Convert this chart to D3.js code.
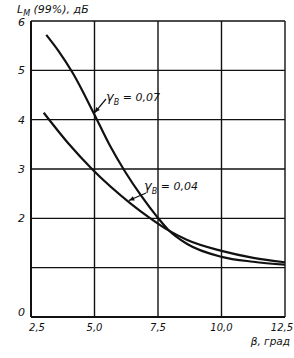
<!DOCTYPE html>
<html><head><meta charset="utf-8">
<script src="https://cdn.jsdelivr.net/npm/d3@7"></script>
<style>
html,body{margin:0;padding:0;background:#fff;}
svg{display:block;}
text{font-family:"DejaVu Sans",sans-serif;font-style:italic;fill:#111;}
</style></head>
<body>
<script>
// Data
const xTicks = [2.5, 5.0, 7.5, 10.0, 12.5];
const xTickLabels = ["2,5", "5,0", "7,5", "10,0", "12,5"];
const yTicks = [0, 1, 2, 3, 4, 5, 6];
const yTickLabels = ["0", "", "2", "3", "4", "5", "6"];

const betaA = [3.1, 3.6, 4.15, 5.0, 5.6, 6.2, 6.85, 7.45, 7.9, 8.65, 10.0, 11.25, 12.5];
const lmA   = [5.72, 5.38, 4.94, 4.1, 3.48, 2.95, 2.45, 2.04, 1.77, 1.48, 1.22, 1.12, 1.06]; // gamma_B = 0,07

const betaB = [3.0, 4.0, 4.9, 6.4, 7.2, 7.9, 8.65, 10.0, 11.25, 12.5];
const lmB   = [4.14, 3.5, 3.0, 2.31, 2.0, 1.76, 1.56, 1.34, 1.2, 1.11];    // gamma_B = 0,04

const W = 294, H = 358;
const svg = d3.select("body").append("svg").attr("width", W).attr("height", H);

const x = d3.scaleLinear().domain([2.5, 12.5]).range([31, 285]);
const y = d3.scaleLinear().domain([0, 6]).range([317, 21]);

// grid
svg.append("g").selectAll("line").data(xTicks).join("line")
  .attr("x1", d => x(d)).attr("x2", d => x(d))
  .attr("y1", y(0)).attr("y2", y(6))
  .attr("stroke", "#111").attr("stroke-width", (d,i) => i === 0 ? 2 : 1.4);
svg.append("g").selectAll("line").data(yTicks).join("line")
  .attr("x1", x(2.5)).attr("x2", x(12.5))
  .attr("y1", d => y(d)).attr("y2", d => y(d))
  .attr("stroke", "#111").attr("stroke-width", (d,i) => i === 0 ? 2 : 1.3);

// y tick labels
svg.append("g").selectAll("text").data(yTicks).join("text")
  .attr("x", 25).attr("y", d => y(d) + (d === 6 ? 5 : (d === 0 ? -1 : 4)))
  .attr("text-anchor", "end").attr("font-size", 11)
  .text((d,i) => yTickLabels[i]);

// x tick labels
svg.append("g").selectAll("text").data(xTicks).join("text")
  .attr("x", (d,i) => x(d) + (i === 0 ? 6 : (i === 4 ? -3 : 0)))
  .attr("y", 331).attr("text-anchor", "middle").attr("font-size", 10)
  .text((d,i) => xTickLabels[i]);

// axis titles
const yt = svg.append("text").attr("x", 17).attr("y", 13).attr("font-size", 11);
yt.append("tspan").text("L");
yt.append("tspan").attr("font-size", 8).attr("dy", 3).text("M");
yt.append("tspan").attr("dy", -3).text(" (99%), дБ");

svg.append("text").attr("x", 290).attr("y", 345).attr("text-anchor", "end")
  .attr("font-size", 10.5).text("β, град");

// curves
const line = d3.line().x(d => x(d[0])).y(d => y(d[1])).curve(d3.curveMonotoneX);
svg.append("path").datum(d3.zip(betaA, lmA)).attr("d", line)
  .attr("fill", "none").attr("stroke", "#111").attr("stroke-width", 2.2);
svg.append("path").datum(d3.zip(betaB, lmB)).attr("d", line)
  .attr("fill", "none").attr("stroke", "#111").attr("stroke-width", 2.2);

// annotations
function arrow(x1, y1, x2, y2) {
  svg.append("line").attr("x1", x1).attr("y1", y1).attr("x2", x2).attr("y2", y2)
    .attr("stroke", "#111").attr("stroke-width", 1.2);
  const a = Math.atan2(y2 - y1, x2 - x1), L = 6, s = 0.4;
  const p = [[x2, y2],
    [x2 - L*Math.cos(a - s), y2 - L*Math.sin(a - s)],
    [x2 - L*Math.cos(a + s), y2 - L*Math.sin(a + s)]];
  svg.append("path").attr("d", "M" + p.join("L") + "Z").attr("fill", "#111");
}
function gammaLabel(tx, ty, val) {
  const t = svg.append("text").attr("x", tx).attr("y", ty).attr("font-size", 11);
  t.append("tspan").attr("font-size", 13).text("γ");
  t.append("tspan").attr("font-size", 8).attr("dy", 4).text("В");
  t.append("tspan").attr("dy", -4).text(" = " + val);
}
gammaLabel(106, 101, "0,07");
arrow(106, 99, x(5.0), y(4.14));
gammaLabel(144, 190, "0,04");
arrow(146, 193, x(6.35), y(2.36));
</script>
</body></html>
